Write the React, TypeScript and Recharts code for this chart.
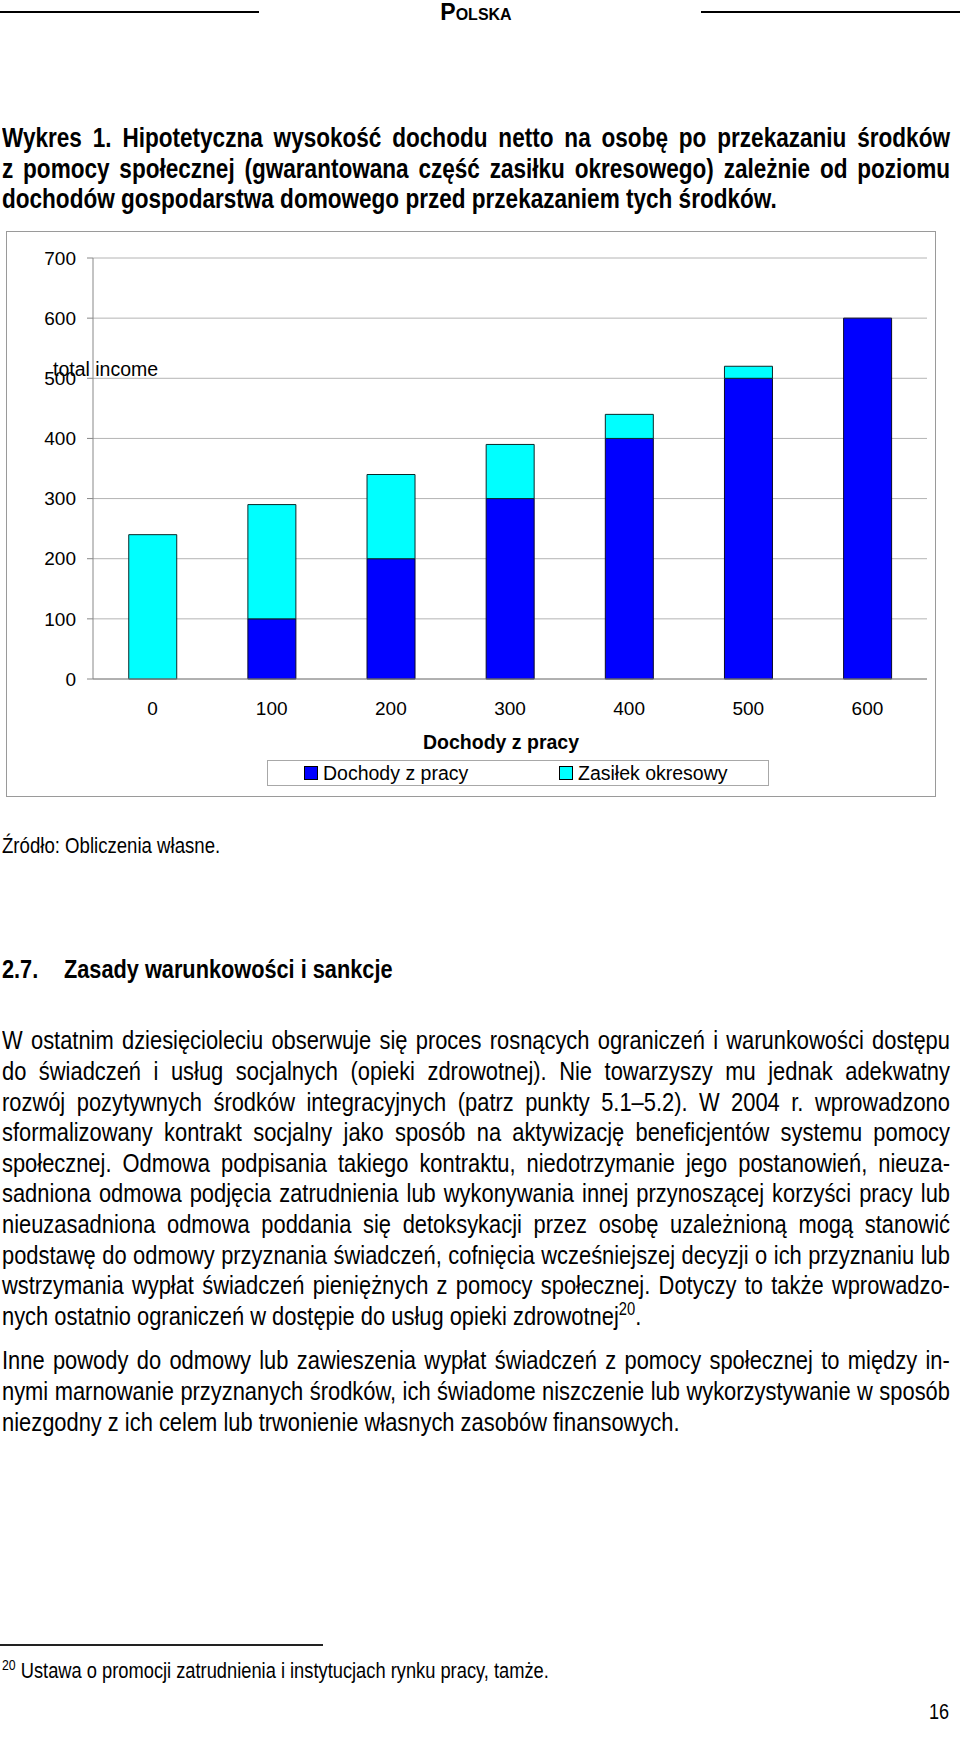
import React from "react";
import { BarChart, Bar, XAxis, YAxis, CartesianGrid, Legend } from "recharts";

// Dochody z pracy (oś X) i składowe dochodu netto
const kategorie = ["0", "100", "200", "300", "400", "500", "600"];
const dochodyZPracy = [0, 100, 200, 300, 400, 500, 600];
const zasilekOkresowy = [240, 190, 140, 90, 40, 20, 0];
const yTicks = [0, 100, 200, 300, 400, 500, 600, 700];
const edgeTicks = [0, 1, 2, 3, 4, 5, 6, 7];

const data = kategorie.map((k, i) => ({
  k,
  dochody: dochodyZPracy[i],
  zasilek: zasilekOkresowy[i],
}));

const seriesColors: Record<string, string> = { dochody: "#0000ff", zasilek: "#00ffff" };

const CHART_FONT = '"Liberation Sans", Arial, sans-serif';
// brak kroju "Narrow" - zwężamy zwykły Liberation Sans
const NARROW = '"Liberation Sans Narrow", "Arial Narrow", "Liberation Sans", Arial, sans-serif';

const titleLines = [
  "Wykres 1. Hipotetyczna wysokość dochodu netto na osobę po przekazaniu środków",
  "z pomocy społecznej (gwarantowana część zasiłku okresowego) zależnie od poziomu",
  "dochodów gospodarstwa domowego przed przekazaniem tych środków.",
];

const para1 = [
  "W ostatnim dziesięcioleciu obserwuje się proces rosnących ograniczeń i warunkowości dostępu",
  "do świadczeń i usług socjalnych (opieki zdrowotnej). Nie towarzyszy mu jednak adekwatny",
  "rozwój pozytywnych środków integracyjnych (patrz punkty 5.1–5.2). W 2004 r. wprowadzono",
  "sformalizowany kontrakt socjalny jako sposób na aktywizację beneficjentów systemu pomocy",
  "społecznej. Odmowa podpisania takiego kontraktu, niedotrzymanie jego postanowień, nieuza-",
  "sadniona odmowa podjęcia zatrudnienia lub wykonywania innej przynoszącej korzyści pracy lub",
  "nieuzasadniona odmowa poddania się detoksykacji przez osobę uzależnioną mogą stanowić",
  "podstawę do odmowy przyznania świadczeń, cofnięcia wcześniejszej decyzji o ich przyznaniu lub",
  "wstrzymania wypłat świadczeń pieniężnych z pomocy społecznej. Dotyczy to także wprowadzo-",
];

const para2 = [
  "Inne powody do odmowy lub zawieszenia wypłat świadczeń z pomocy społecznej to między in-",
  "nymi marnowanie przyznanych środków, ich świadome niszczenie lub wykorzystywanie w sposób",
];

function TextLine({
  y,
  size,
  bold,
  justify,
  align = "left",
  left = 2,
  width = 948,
  scale = 0.82,
  children,
}: {
  y: number;
  size: number;
  bold?: boolean;
  justify?: boolean;
  align?: "left" | "right" | "center";
  left?: number;
  width?: number;
  scale?: number;
  children: React.ReactNode;
}) {
  const words = justify && typeof children === "string" ? children.split(" ") : null;
  return (
    <div
      style={{
        position: "absolute",
        left,
        top: y - 0.85 * size,
        width: width / scale,
        transform: `scaleX(${scale})`,
        transformOrigin: "0 0",
        fontFamily: NARROW,
        fontSize: size,
        lineHeight: `${size}px`,
        fontWeight: bold ? "bold" : "normal",
        color: "#000",
        whiteSpace: "pre",
        textAlign: align,
        ...(words ? { display: "flex", justifyContent: "space-between" } : {}),
      }}
    >
      {words ? words.map((w, i) => <span key={i}>{w}</span>) : children}
    </div>
  );
}

const legendOffsets = [36, 291];

function LegendBox(props: any) {
  const payload = props.payload || [];
  return (
    <div style={{ position: "relative", width: "100%", height: "100%" }}>
      {payload.map((p: any, i: number) => (
        <div
          key={p.value}
          style={{
            position: "absolute",
            left: legendOffsets[i],
            top: 0,
            height: 24,
            display: "flex",
            alignItems: "center",
            gap: 5,
            fontFamily: CHART_FONT,
            fontSize: 19.5,
            color: "#000",
          }}
        >
          <span
            style={{
              display: "inline-block",
              width: 12,
              height: 12,
              background: seriesColors[p.dataKey] || p.color,
              border: "1px solid #000",
            }}
          />
          <span>{p.value}</span>
        </div>
      ))}
    </div>
  );
}

function IncomeChart() {
  return (
    <div style={{ position: "absolute", left: 6, top: 231, width: 930, height: 566 }}>
      <BarChart
        width={930}
        height={566}
        data={data}
        margin={{ top: 27, right: 9, bottom: 11, left: 0 }}
        barCategoryGap="30%"
        style={{ fontFamily: CHART_FONT }}
      >
        <CartesianGrid vertical={false} stroke="#b4b4b4" />
        <XAxis
          xAxisId="edge"
          type="number"
          domain={[0, 7]}
          ticks={edgeTicks}
          height={0}
          tick={false}
          tickSize={5}
          axisLine={false}
          tickLine={{ stroke: "#888" }}
          allowDataOverflow
        />
        <XAxis
          dataKey="k"
          height={81}
          interval={0}
          tickLine={false}
          tickSize={6}
          tickMargin={17}
          axisLine={{ stroke: "#888" }}
          tick={{ fill: "#000", fontSize: 19 }}
          label={{
            value: "Dochody z pracy",
            position: "insideBottom",
            offset: 11,
            dx: -9,
            fill: "#000",
            fontSize: 19.5,
            fontWeight: "bold",
          }}
        />
        <YAxis
          domain={[0, 700]}
          ticks={yTicks}
          interval={0}
          width={87}
          tickSize={6}
          tickMargin={11}
          axisLine={{ stroke: "#888" }}
          tickLine={{ stroke: "#888" }}
          tick={{ fill: "#000", fontSize: 19 }}
          label={{
            value: "total income",
            position: "insideLeft",
            offset: 47,
            dy: -99,
            fill: "#000",
            fontSize: 19.5,
          }}
        />
        <YAxis
          yAxisId="r"
          orientation="right"
          width={0}
          domain={[0, 700]}
          tick={false}
          tickLine={false}
          axisLine={{ stroke: "#aaa" }}
        />
        <Legend
          verticalAlign="bottom"
          width={502}
          height={26}
          wrapperStyle={{
            left: 261,
            top: 529,
            width: 502,
            height: 26,
            border: "1px solid #a8a8a8",
            boxSizing: "border-box",
            background: "#fff",
          }}
          content={<LegendBox />}
        />
        <Bar
          dataKey="dochody"
          name="Dochody z pracy"
          stackId="a"
          fill={seriesColors.dochody}
          stroke="#0a0a2a"
          strokeWidth={1}
          isAnimationActive={false}
        />
        <Bar
          dataKey="zasilek"
          name="Zasiłek okresowy"
          stackId="a"
          fill={seriesColors.zasilek}
          stroke="#0a2a2a"
          strokeWidth={1}
          isAnimationActive={false}
        />
      </BarChart>
      <div
        style={{
          position: "absolute",
          inset: 0,
          border: "1px solid #9a9a9a",
          pointerEvents: "none",
        }}
      />
    </div>
  );
}

export default function App() {
  return (
    <div
      style={{
        position: "absolute",
        left: 0,
        top: 0,
        width: 960,
        height: 1744,
        background: "#fff",
        overflow: "hidden",
      }}
    >
      {/* nagłówek strony */}
      <div style={{ position: "absolute", left: 0, top: 11, width: 259, height: 2, background: "#000" }} />
      <div style={{ position: "absolute", left: 701, top: 11, width: 259, height: 2, background: "#000" }} />
      <div
        style={{
          position: "absolute",
          left: 0,
          width: 952,
          top: 21 - 0.85 * 23,
          fontFamily: CHART_FONT,
          fontSize: 23,
          lineHeight: "23px",
          fontWeight: "bold",
          fontVariant: "small-caps",
          textAlign: "center",
        }}
      >
        Polska
      </div>

      {titleLines.map((t, i) => (
        <TextLine key={i} y={147.5 + i * 30.5} size={27.5} bold justify={i < titleLines.length - 1}>
          {t}
        </TextLine>
      ))}

      <IncomeChart />

      <TextLine y={853} size={22.7}>
        Źródło: Obliczenia własne.
      </TextLine>

      <TextLine y={978.3} size={26.5} bold>
        2.7.
      </TextLine>
      <TextLine y={978.3} size={26.5} bold left={64} width={880}>
        Zasady warunkowości i sankcje
      </TextLine>

      {para1.map((t, i) => (
        <TextLine key={i} y={1050 + i * 30.6} size={26.7} justify>
          {t}
        </TextLine>
      ))}
      <TextLine y={1050 + 9 * 30.6} size={26.7}>
        nych ostatnio ograniczeń w dostępie do usług opieki zdrowotnej
        <sup style={{ fontSize: 18, lineHeight: 0 }}>20</sup>.
      </TextLine>

      {para2.map((t, i) => (
        <TextLine key={i} y={1370 + i * 30.6} size={26.7} justify>
          {t}
        </TextLine>
      ))}
      <TextLine y={1370 + 2 * 30.6} size={26.7}>
        niezgodny z ich celem lub trwonienie własnych zasobów finansowych.
      </TextLine>

      {/* przypis */}
      <div style={{ position: "absolute", left: 0, top: 1644, width: 323, height: 2, background: "#222" }} />
      <TextLine y={1679} size={22.3}>
        <sup style={{ fontSize: 15, lineHeight: 0 }}>20</sup> Ustawa o promocji zatrudnienia i instytucjach rynku pracy, tamże.
      </TextLine>

      <TextLine y={1720} size={22} left={850} width={99} align="right">
        16
      </TextLine>
    </div>
  );
}
